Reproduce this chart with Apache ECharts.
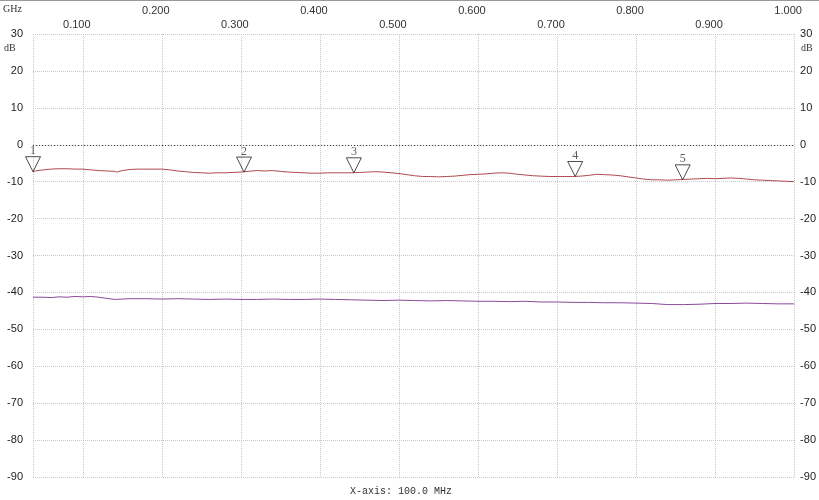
<!DOCTYPE html>
<html>
<head>
<meta charset="utf-8">
<script src="https://cdn.jsdelivr.net/npm/echarts@6/dist/echarts.min.js"></script>
<style>html,body{margin:0;padding:0;background:#fff}#c{width:819px;height:500px}</style>
</head>
<body>
<div id="c"></div>
<script>
// Frequency axis (GHz)
var freqMin = 0.037, freqMax = 1.0;
var freqTicks = [0.1, 0.2, 0.3, 0.4, 0.5, 0.6, 0.7, 0.8, 0.9, 1.0];
var freqLabelsLow = [0.1, 0.3, 0.5, 0.7, 0.9];
var freqLabelsHigh = [0.2, 0.4, 0.6, 0.8, 1.0];
var dbTicks = [-90, -80, -70, -60, -50, -40, -30, -20, -10, 0, 10, 20, 30];

// Trace 1 (red)
var redFreq = [0.037,0.04,0.05,0.06,0.07,0.08,0.09,0.10,0.11,0.12,0.13,0.14,0.143,0.15,0.16,0.17,0.18,0.19,0.20,
  0.21,0.22,0.23,0.24,0.25,0.26,0.27,0.28,0.29,0.30,0.31,0.32,0.33,0.34,0.35,0.36,0.37,0.38,0.39,0.40,
  0.41,0.42,0.43,0.44,0.45,0.46,0.47,0.48,0.49,0.50,0.51,0.52,0.53,0.54,0.55,0.56,0.57,0.58,0.59,0.60,
  0.61,0.62,0.63,0.64,0.65,0.66,0.67,0.68,0.69,0.70,0.71,0.72,0.73,0.74,0.75,0.76,0.77,0.78,0.79,0.80,
  0.81,0.82,0.83,0.84,0.85,0.86,0.87,0.88,0.89,0.90,0.91,0.92,0.93,0.94,0.95,0.96,0.97,0.98,0.99,1.00];
var redDb = [-7.3,-7.1,-6.8,-6.6,-6.5,-6.5,-6.6,-6.6,-6.8,-7.0,-7.1,-7.2,-7.4,-7.0,-6.7,-6.6,-6.6,-6.6,-6.6,
  -6.8,-7.1,-7.3,-7.5,-7.6,-7.7,-7.6,-7.6,-7.5,-7.4,-7.2,-7.0,-7.1,-7.0,-7.2,-7.4,-7.5,-7.6,-7.7,-7.7,
  -7.6,-7.6,-7.6,-7.6,-7.5,-7.4,-7.3,-7.4,-7.6,-7.8,-8.1,-8.4,-8.6,-8.6,-8.7,-8.6,-8.5,-8.3,-8.1,-8.0,
  -7.9,-7.7,-7.6,-7.7,-8.0,-8.2,-8.4,-8.5,-8.6,-8.6,-8.6,-8.6,-8.5,-8.3,-8.0,-8.1,-8.2,-8.4,-8.7,-9.0,
  -9.3,-9.5,-9.5,-9.6,-9.5,-9.4,-9.3,-9.2,-9.1,-9.2,-9.1,-9.0,-9.1,-9.3,-9.5,-9.6,-9.7,-9.8,-9.9,-10.0];

// Trace 2 (purple)
var purpleFreq = [0.037,0.05,0.06,0.07,0.08,0.09,0.10,0.11,0.12,0.13,0.14,0.15,0.16,0.18,0.20,0.22,0.24,0.26,0.28,
  0.30,0.32,0.34,0.36,0.38,0.40,0.42,0.44,0.46,0.48,0.50,0.52,0.54,0.56,0.58,0.60,0.62,0.64,0.66,0.68,
  0.70,0.72,0.74,0.76,0.78,0.80,0.82,0.84,0.86,0.88,0.90,0.92,0.94,0.96,0.98,1.00];
var purpleDb = [-41.3,-41.3,-41.4,-41.2,-41.3,-41.1,-41.2,-41.1,-41.3,-41.6,-41.9,-41.8,-41.7,-41.7,-41.8,-41.7,-41.8,-41.9,-41.8,
  -41.9,-41.9,-41.8,-41.9,-41.9,-41.8,-41.9,-42.0,-42.1,-42.2,-42.1,-42.2,-42.3,-42.2,-42.3,-42.4,-42.4,-42.5,-42.4,-42.6,
  -42.6,-42.7,-42.7,-42.8,-42.8,-42.9,-43.0,-43.3,-43.3,-43.2,-43.0,-43.0,-42.9,-43.0,-43.1,-43.1];

// Markers
var markerNames = ['1', '2', '3', '4', '5'];
var markerFreq = [0.037, 0.304, 0.443, 0.723, 0.859];
var markerDb = [-7.3, -7.4, -7.6, -8.6, -9.5];

function zip(a, b) { return a.map(function (v, i) { return [v, b[i]]; }); }
function fmtF(v) { return (Math.round(v * 1000) / 1000).toFixed(3); }

var chart = echarts.init(document.getElementById('c'), null, { renderer: 'canvas' });
var gridColor = '#c8c8c8';
var labelFont = 'Liberation Sans';
var xTickVals = [freqMin].concat(freqTicks);

var option = {
  animation: false,
  backgroundColor: '#ffffff',
  grid: { left: 33, right: 22, top: 34, bottom: 23, containLabel: false },
  xAxis: [
    {
      type: 'value', position: 'top', min: freqMin, max: freqMax,
      axisLine: { show: false },
      axisTick: { show: false, customValues: xTickVals },
      axisLabel: {
        customValues: freqLabelsLow, formatter: fmtF, margin: 4,
        fontSize: 11, color: '#333', fontFamily: labelFont, padding: [0, 12, 0, 0]
      },
      splitLine: { show: true, lineStyle: { color: gridColor, type: 'dotted', width: 1 } }
    },
    {
      type: 'value', position: 'top', min: freqMin, max: freqMax, offset: 14,
      axisLine: { show: false },
      axisTick: { show: false, customValues: freqLabelsHigh },
      axisLabel: {
        customValues: freqLabelsHigh, formatter: fmtF, margin: 4,
        fontSize: 11, color: '#333', fontFamily: labelFont, padding: [0, 12, 0, 0]
      },
      splitLine: { show: false }
    }
  ],
  yAxis: [
    {
      type: 'value', position: 'left', min: -90, max: 30, interval: 10,
      axisLine: { show: false }, axisTick: { show: false },
      axisLabel: { fontSize: 11, color: '#222', fontFamily: labelFont, margin: 10 },
      splitLine: { show: true, lineStyle: { color: gridColor, type: 'dotted', width: 1 } }
    },
    {
      type: 'value', position: 'right', min: -90, max: 30, interval: 10,
      axisLine: { show: false }, axisTick: { show: false },
      axisLabel: { fontSize: 11, color: '#222', fontFamily: labelFont, margin: 6 },
      splitLine: { show: false }
    }
  ],
  series: [
    {
      name: 'trace1', type: 'line', xAxisIndex: 0, yAxisIndex: 0,
      data: zip(redFreq, redDb), showSymbol: false, symbol: 'none',
      lineStyle: { color: '#b04a4f', width: 1 },
      markLine: {
        silent: true, symbol: 'none', label: { show: false },
        lineStyle: { color: '#444', type: [1, 2], width: 1 },
        data: [{ yAxis: 0 }]
      },
      z: 3
    },
    {
      name: 'trace2', type: 'line', xAxisIndex: 0, yAxisIndex: 0,
      data: zip(purpleFreq, purpleDb), showSymbol: false, symbol: 'none',
      lineStyle: { color: '#8b4a9c', width: 1 }, z: 3
    },
    {
      name: 'markers', type: 'scatter', xAxisIndex: 0, yAxisIndex: 0, clip: false,
      data: markerFreq.map(function (f, i) { return { value: [f, markerDb[i]], name: markerNames[i] }; }),
      symbol: 'path://M0,0 L15,0 L7.5,15 Z', symbolSize: [15, 15], symbolOffset: [0, -7.5],
      itemStyle: { color: 'rgba(255,255,255,0)', borderColor: '#222', borderWidth: 1 },
      label: {
        show: true, position: 'top', distance: -1, formatter: function (p) { return p.name; },
        fontSize: 12, color: '#333', fontFamily: 'Liberation Serif'
      },
      z: 5
    }
  ],
  graphic: [
    { type: 'rect', shape: { x: 0, y: 0, width: 819, height: 1 }, style: { fill: '#9a9a9a' } },
    { type: 'text', left: 3, top: 4, style: { text: 'GHz', fontSize: 10, fill: '#333', fontFamily: 'Liberation Serif' } },
    { type: 'text', left: 4, top: 43, style: { text: 'dB', fontSize: 10, fill: '#333', fontFamily: 'Liberation Serif' } },
    { type: 'text', left: 801, top: 43, style: { text: 'dB', fontSize: 10, fill: '#333', fontFamily: 'Liberation Serif' } },
    { type: 'text', left: 350, top: 486, style: { text: 'X-axis: 100.0 MHz', fontSize: 10, fill: '#333', fontFamily: 'Liberation Mono' } }
  ]
};
chart.setOption(option);
</script>
</body>
</html>
